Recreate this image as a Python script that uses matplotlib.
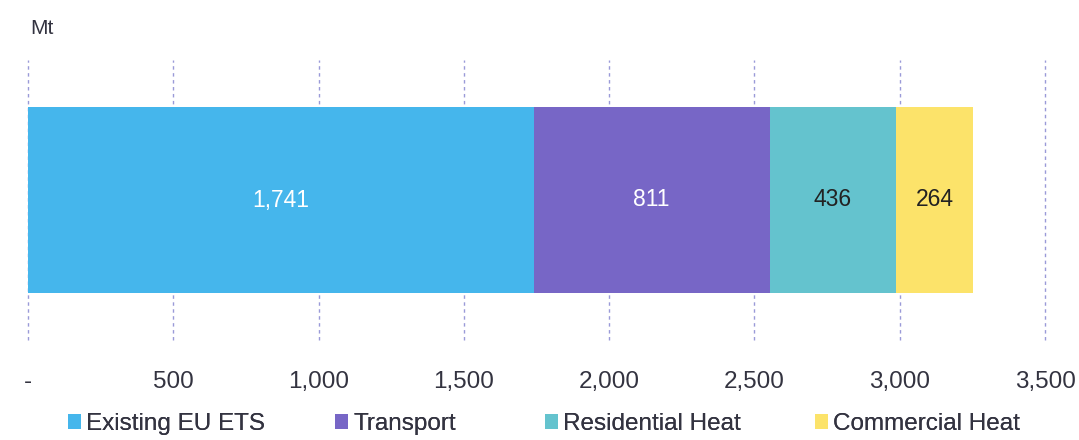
import matplotlib.pyplot as plt
from matplotlib.ticker import FuncFormatter

# data
sectors = ['Existing EU ETS', 'Transport', 'Residential Heat', 'Commercial Heat']
values = [1741, 811, 436, 264]
colors = ['#45B6EC', '#7766C6', '#64C3CE', '#FCE36A']
label_colors = ['white', 'white', '#222222', '#222222']
ticks = [0, 500, 1000, 1500, 2000, 2500, 3000, 3500]

plt.rcParams['font.family'] = ['Liberation Sans', 'DejaVu Sans']

fig = plt.figure(figsize=(10.79, 4.40), dpi=100)
ax = fig.add_axes([28 / 1079, 100 / 440, 1017 / 1079, 280 / 440])

bars = []
left = 0
for name, v, c, lc in zip(sectors, values, colors, label_colors):
    b = ax.barh(0, v, left=left, height=0.664, color=c, label=name, zorder=2)
    bars.append(b)
    ax.text(left + v / 2, 0, f'{v:,}', ha='center', va='center',
            fontsize=16.5, color=lc, zorder=3)
    left += v

ax.set_xlim(0, 3500)
ax.set_ylim(-0.5, 0.5)
ax.set_xticks(ticks)
ax.xaxis.set_major_formatter(FuncFormatter(lambda x, p: '-' if x == 0 else f'{int(x):,}'))
ax.set_yticks([])
ax.tick_params(axis='x', length=0, labelsize=17.5, labelcolor='#333340', pad=22)
ax.grid(axis='x', color='#9a9ad8', linestyle=(0, (2.5, 2.5)), linewidth=1, zorder=0)
for gl in ax.get_xgridlines():
    gl.set_clip_on(False)
for s in ax.spines.values():
    s.set_visible(False)

fig.text(30 / 1079, 1 - 28 / 440, 'Mt', fontsize=15, color='#333340', va='center')

# legend entries are unevenly spaced in the original, so one legend per entry
leg_x = [68, 335, 545, 815]
for b, name, lx in zip(bars, sectors, leg_x):
    lg = fig.legend([b], [name], loc='center left', bbox_to_anchor=(lx / 1079, 1 - 424 / 440),
                    frameon=False, fontsize=17.5, handlelength=0.55, handleheight=0.55,
                    handletextpad=0.2, borderpad=0, borderaxespad=0, labelcolor='#333340')
    fig.add_artist(lg)

fig.savefig('out.png', dpi=100)
